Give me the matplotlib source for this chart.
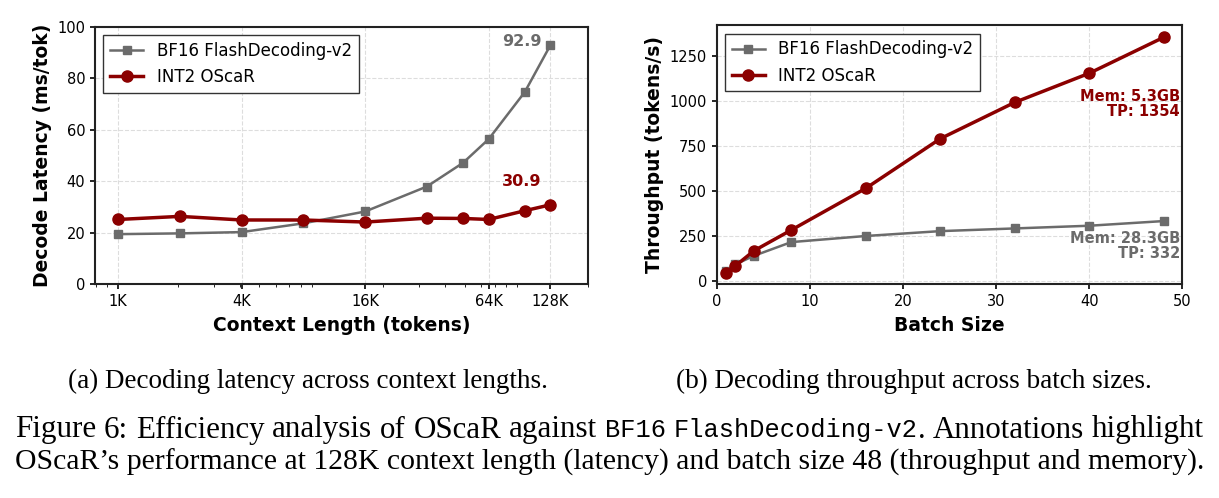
import matplotlib
matplotlib.use("Agg")
import matplotlib.pyplot as plt

# (a) decode latency vs context length
ctx_len = [1024, 2048, 4096, 8192, 16384, 32768, 49152, 65536, 98304, 131072]
lat_bf16 = [19.5, 19.8, 20.3, 23.7, 28.3, 38.0, 47.2, 56.4, 74.7, 92.9]
lat_oscar = [25.2, 26.4, 25.0, 25.0, 24.2, 25.7, 25.6, 25.2, 28.6, 30.9]
ctx_ticks = [1024, 4096, 16384, 65536, 131072]
ctx_ticklabels = ["1K", "4K", "16K", "64K", "128K"]

# (b) throughput vs batch size
batch = [1, 2, 4, 8, 16, 24, 32, 40, 48]
tp_bf16 = [56, 91, 139, 215, 249, 276, 291, 306, 332]
tp_oscar = [41, 83, 167, 282, 514, 790, 992, 1154, 1354]

GRAY = "#6b6b6b"
RED = "#8b0000"

fig = plt.figure(figsize=(12.19, 4.98), dpi=100)
ax1 = fig.add_axes([0.078, 0.429, 0.4044, 0.517])
ax2 = fig.add_axes([0.588, 0.429, 0.382, 0.520])


def style(ax):
    ax.grid(True, which="major", linestyle="--", color="#dddddd", linewidth=0.8)
    ax.set_axisbelow(True)
    for s in ax.spines.values():
        s.set_linewidth(1.5)
        s.set_color("#222222")
    ax.tick_params(labelsize=10.5, width=1.2)
    ax.legend(loc="upper left", fontsize=12, fancybox=False, edgecolor="#333333",
              framealpha=1.0)


# left panel
ax1.plot(ctx_len, lat_bf16, color=GRAY, marker="s", markersize=6, linewidth=1.8,
         label="BF16 FlashDecoding-v2")
ax1.plot(ctx_len, lat_oscar, color=RED, marker="o", markersize=8, linewidth=2.5,
         label="INT2 OScaR")
ax1.set_xscale("log")
ax1.set_xticks(ctx_ticks)
ax1.set_xticklabels(ctx_ticklabels)
ax1.set_xlim(790, 200000)
ax1.set_ylim(0, 100)
ax1.set_xlabel("Context Length (tokens)", fontsize=13.5, fontweight="bold", labelpad=5)
ax1.set_ylabel("Decode Latency (ms/tok)", fontsize=13.5, fontweight="bold")
ax1.annotate(f"{lat_bf16[-1]:.1f}", (ctx_len[-1], lat_bf16[-1]), xytext=(-9, 4),
             textcoords="offset pixels", ha="right", va="center", color=GRAY,
             fontsize=11.5, fontweight="bold")
ax1.annotate(f"{lat_oscar[-1]:.1f}", (ctx_len[-1], lat_oscar[-1]), xytext=(-9, 23),
             textcoords="offset pixels", ha="right", va="center", color=RED,
             fontsize=11.5, fontweight="bold")
style(ax1)

# right panel
ax2.plot(batch, tp_bf16, color=GRAY, marker="s", markersize=6, linewidth=1.8,
         label="BF16 FlashDecoding-v2")
ax2.plot(batch, tp_oscar, color=RED, marker="o", markersize=8, linewidth=2.5,
         label="INT2 OScaR")
ax2.set_xlim(0, 50)
ax2.set_ylim(-20, 1420)
ax2.set_yticks([0, 250, 500, 750, 1000, 1250])
ax2.set_xlabel("Batch Size", fontsize=13.5, fontweight="bold", labelpad=5)
ax2.set_ylabel("Throughput (tokens/s)", fontsize=13.5, fontweight="bold")
ax2.annotate(f"Mem: 5.3GB\nTP: {tp_oscar[-1]}", (batch[-1], tp_oscar[-1]),
             xytext=(16, -67), textcoords="offset pixels", ha="right", va="center",
             color=RED, fontsize=10.5, fontweight="bold", linespacing=1.0)
ax2.annotate(f"Mem: 28.3GB\nTP: {tp_bf16[-1]}", (batch[-1], tp_bf16[-1]),
             xytext=(16, -25), textcoords="offset pixels", ha="right", va="center",
             color=GRAY, fontsize=10.5, fontweight="bold", linespacing=1.0)
style(ax2)

# captions
serif = "Liberation Serif"
mono = "Liberation Mono"
fig.text(308 / 1219, 1 - 381 / 498, "(a) Decoding latency across context lengths.",
         ha="center", va="center", family=serif, fontsize=19.5)
fig.text(914 / 1219, 1 - 381 / 498, "(b) Decoding throughput across batch sizes.",
         ha="center", va="center", family=serif, fontsize=19.5)

# figure caption, line 1 is justified word by word (serif + monospace words)
fig.canvas.draw()
renderer = fig.canvas.get_renderer()
SERIF_SZ, MONO_SZ = 22.3, 18.3
words = [(w, serif, SERIF_SZ) for w in "Figure 6: Efficiency analysis of OScaR against".split()]
words += [("BF16", mono, MONO_SZ), ("FlashDecoding-v2.", None, None)]
words += [(w, serif, SERIF_SZ) for w in "Annotations highlight".split()]
items = []
for w, fam, size in words:
    if fam is None:
        # monospace name followed by a serif full stop, kept together
        t1 = fig.text(0, 1 - 430 / 498, "FlashDecoding-v2", ha="left", va="center",
                      family=mono, fontsize=MONO_SZ)
        t2 = fig.text(0, 1 - 430 / 498, ".", ha="left", va="center",
                      family=serif, fontsize=SERIF_SZ)
        items.append([t1, t2])
    else:
        items.append([fig.text(0, 1 - 430 / 498, w, ha="left", va="center",
                               family=fam, fontsize=size)])
widths = [sum(t.get_window_extent(renderer).width for t in grp) for grp in items]
x0, x1 = 15, 1204
gap = (x1 - x0 - sum(widths)) / (len(items) - 1)
x = x0
for grp, w in zip(items, widths):
    xx = x
    for t in grp:
        t.set_x(xx / 1219)
        xx += t.get_window_extent(renderer).width
    x += w + gap
fig.text(15 / 1219, 1 - 462 / 498,
         "OScaR\u2019s performance at 128K context length (latency) and batch size 48 "
         "(throughput and memory).",
         ha="left", va="center", family=serif, fontsize=21.4)

fig.savefig("out.png", dpi=100)
